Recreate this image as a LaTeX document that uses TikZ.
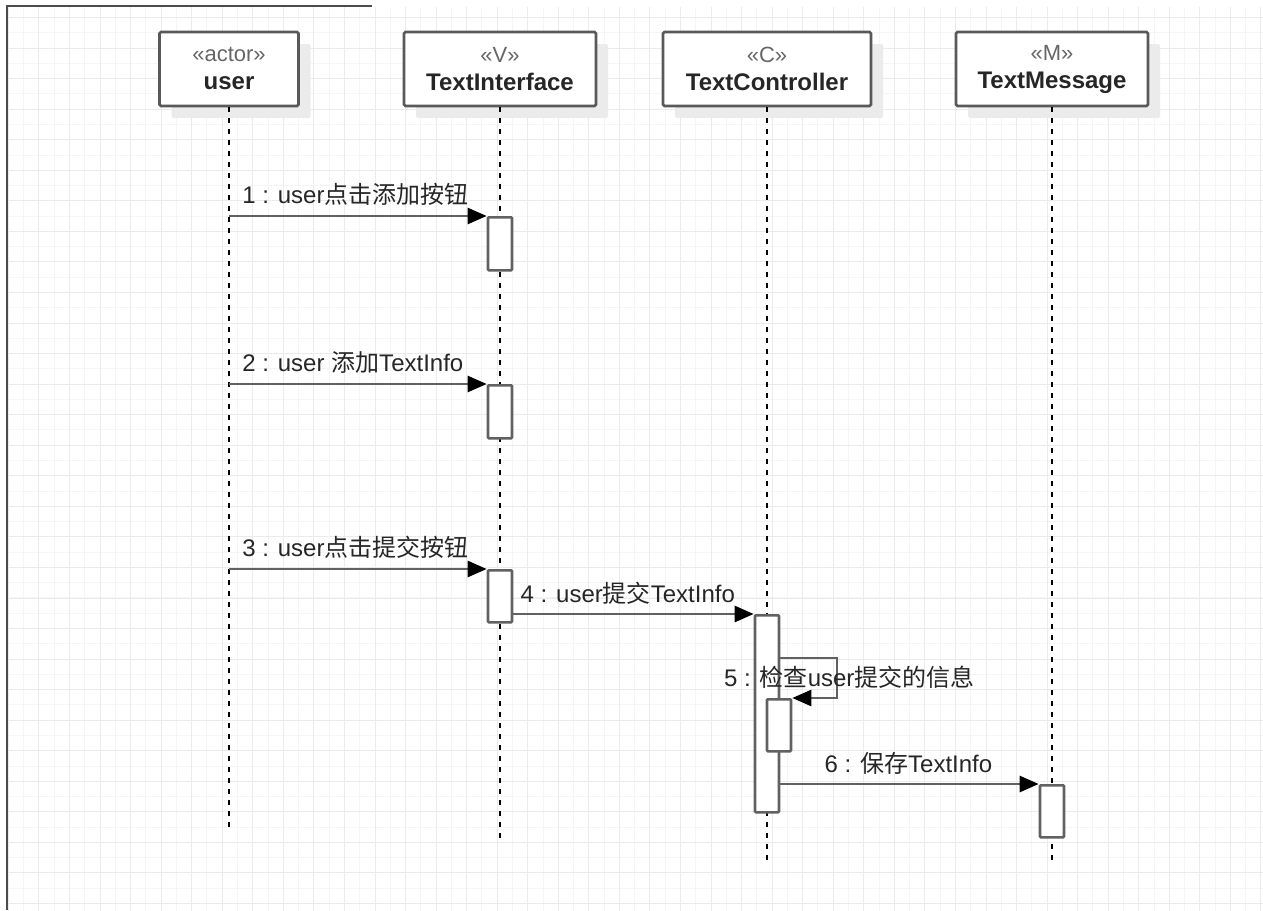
\documentclass[tikz,border=0pt]{standalone}
\usepackage{fontspec}
\setmainfont{Liberation Sans}
\newfontfamily\cjk{Noto Sans CJK SC}
\usepackage{tikz}
\usetikzlibrary{arrows.meta, calc, shadows}

\newcommand\stype[1]{{\fontsize{22}{28}\selectfont\color{black!60}#1}}

\begin{document}
\begin{tikzpicture}[x=1pt, y=-1pt, font=\fontsize{24}{28}\selectfont,
  head/.style={draw=black!65, line width=2.6pt, fill=white, rounded corners=1.5pt,
               minimum height=74pt, align=center, inner sep=2pt, text=black!85,
               drop shadow={shadow xshift=12pt, shadow yshift=-12pt, fill=black!8, opacity=1}},
  act/.style={draw=black!62, line width=2.6pt, fill=white, rounded corners=1pt,
              minimum width=24pt, inner sep=0pt, anchor=north},
  life/.style={black, line width=1.8pt, dash pattern=on 5pt off 6pt},
  msg/.style={draw=black!62, line width=2.6pt, -{Triangle[length=19pt, width=16pt, color=black]}},
  lbl/.style={anchor=base west, text=black!85, inner sep=0pt}]
\useasboundingbox (0,0) rectangle (1263,910);
\begin{scope}
  \clip (8,7) rectangle (1263,910);
  \draw[black!4, line width=0.9pt, shift={(8.35,2.2)}, step=15.275pt] (-20,-20) grid (1270,920);
  \draw[black!8, line width=0.9pt, shift={(8.35,17.5)}, step=30.55pt] (-40,-40) grid (1270,920);
\end{scope}
\draw[black!70, line width=2.8pt] (372,6) -- (7,6) -- (7,910);

% objects
\node[head, minimum width=139pt] (u)  at (229,69)  {\stype{«actor»}\\\textbf{user}};
\node[head, minimum width=192pt] (ti) at (500,69)  {\stype{«V»}\\\textbf{TextInterface}};
\node[head, minimum width=208pt] (tc) at (767,69)  {\stype{«C»}\\\textbf{TextController}};
\node[head, minimum width=192pt] (tm) at (1052,69) {\stype{«M»}\\\textbf{TextMessage}};

% lifelines
\draw[life] (u.south)  -- ++(0,720);
\draw[life] (ti.south) -- ++(0,732);
\draw[life] (tc.south) -- ++(0,754);
\draw[life] (tm.south) -- ++(0,754);

% activations
\node[act, minimum height=53pt]  (a1) at (500,216)  {};
\node[act, minimum height=53pt]  (a2) at (500,384)  {};
\node[act, minimum height=52pt]  (a3) at (500,569)  {};
\node[act, minimum height=197pt] (a4) at (767,614)  {};
\node[act, minimum height=52pt]  (a5) at (779,698)  {};
\node[act, minimum height=52pt]  (a6) at (1052,784) {};

% messages
\draw[msg] (u.south |- a1.north) -- (a1.north west)
  node[lbl, pos=0, xshift=12pt, yshift=13pt] (t1) {1 : user{\cjk 点击添加按钮}};
\draw[msg] (u.south |- a2.north) -- (a2.north west)
  node[lbl, pos=0, xshift=12pt, yshift=13pt] (t2) {2 : user {\cjk 添加}TextInfo};
\draw[msg] (u.south |- a3.north) -- (a3.north west)
  node[lbl, pos=0, xshift=12pt, yshift=13pt] (t3) {3 : user{\cjk 点击提交按钮}};
\draw[msg] (a3.east |- a4.north) -- (a4.north west)
  node[lbl, pos=0, xshift=6pt, yshift=12pt] (t4) {4 : user{\cjk 提交}TextInfo};
\coordinate (s5) at (837,658);
\draw[msg] (a4.east |- s5) -- (s5) |- (a5.north east);
\node[lbl] (t5) at (724,686) {5 : {\cjk 检查}user{\cjk 提交的信息}};
\draw[msg] (a4.east |- a6.north) -- (a6.north west)
  node[lbl, pos=0, xshift=43pt, yshift=12pt] (t6) {6 : {\cjk 保存}TextInfo};
\end{tikzpicture}
\end{document}
